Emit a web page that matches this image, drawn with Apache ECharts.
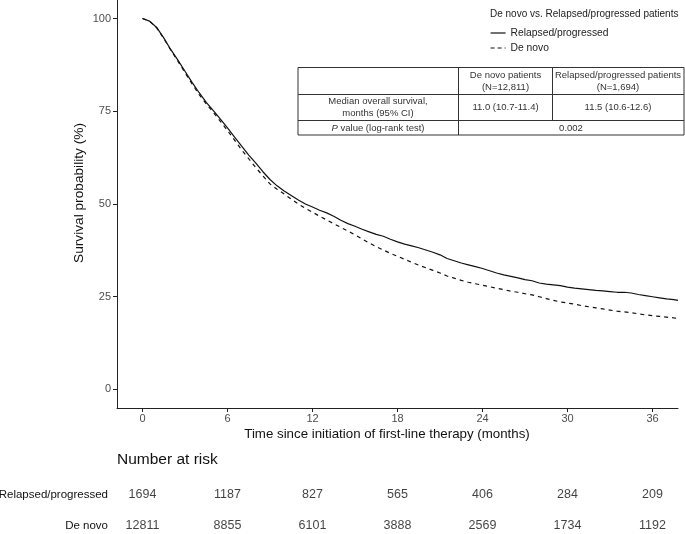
<!DOCTYPE html>
<html>
<head>
<meta charset="utf-8">
<script src="https://cdn.jsdelivr.net/npm/echarts@6/dist/echarts.min.js"></script>
<style>html,body{margin:0;padding:0;background:#fff;}#c{width:685px;height:534px;}</style>
</head>
<body>
<div id="c"></div>
<script>
const times = [0,0.5,1,1.5,2,2.5,3,3.5,4,4.5,5,5.5,6,6.5,7,7.5,8,8.5,9,9.5,10,10.5,11,11.5,12,12.5,13,13.5,14,14.5,15,15.5,16,16.5,17,17.5,18,18.5,19,19.5,20,20.5,21,21.5,22,22.5,23,23.5,24,24.5,25,25.5,26,26.5,27,27.5,28,28.5,29,29.5,30,30.5,31,31.5,32,32.5,33,33.5,34,34.5,35,35.5,36,36.5,37,37.5,37.8];
const relapsedSurv = [100,99.3,97.6,94.8,91.6,88.8,85.8,82.8,80.0,77.4,75.2,72.9,70.5,68.0,65.6,63.2,61.0,58.7,56.6,54.9,53.5,52.3,51.1,50.0,49.2,48.3,47.6,46.7,45.6,44.7,44.0,43.2,42.5,41.8,41.3,40.5,39.8,39.2,38.7,38.2,37.6,37.0,36.3,35.3,34.7,34.1,33.6,33.1,32.6,32.0,31.4,30.9,30.5,30.1,29.6,29.3,28.7,28.4,28.2,28.0,27.6,27.3,27.1,26.9,26.7,26.6,26.4,26.2,26.2,26.0,25.6,25.3,25.0,24.7,24.4,24.2,24.0];
const deNovoSurv = [100,99.3,97.5,94.6,91.5,88.5,85.4,82.4,79.5,77.0,74.7,72.3,69.8,67.2,64.6,62.2,59.8,57.6,55.4,54.0,52.7,51.3,50.0,48.8,47.8,46.7,45.7,44.7,43.7,42.7,41.7,40.6,39.5,38.5,37.6,36.7,35.9,35.1,34.3,33.5,32.8,32.1,31.4,30.6,30.0,29.4,28.9,28.5,28.1,27.7,27.3,26.9,26.5,26.2,25.8,25.5,25.0,24.5,24.0,23.6,23.3,23.0,22.6,22.3,22.0,21.7,21.4,21.1,20.9,20.7,20.4,20.1,19.9,19.7,19.5,19.3,19.2];
const xTicks = [0,6,12,18,24,30,36];
const yTicks = [0,25,50,75,100];
const riskTimes = [0,6,12,18,24,30,36];
const riskRelapsed = [1694,1187,827,565,406,284,209];
const riskDeNovo = [12811,8855,6101,3888,2569,1734,1192];
const riskRows = ['De novo','Relapsed/progressed'];
const groupNames = ['Relapsed/progressed','De novo'];

const FONT = '"Liberation Sans", Arial, sans-serif';
const chart = echarts.init(document.getElementById('c'), null, {renderer:'canvas'});

const relData = times.map((t,i)=>[t, relapsedSurv[i]]);
const dnData = times.map((t,i)=>[t, deNovoSurv[i]]);
const riskData = [];
riskTimes.forEach((t,i)=>{
  riskData.push([t, 'Relapsed/progressed', riskRelapsed[i]]);
  riskData.push([t, 'De novo', riskDeNovo[i]]);
});

const axisColor = '#222';
const labelColor = '#4d4d4d';
const txt = {fontFamily: FONT, fontSize: 9.5, fill: '#333'};
const TL = 298, TR = 684;

const option = {
  animation: false,
  backgroundColor: '#fff',
  textStyle: {fontFamily: FONT},
  grid: [
    {left: 117, top: 0, width: 561, height: 408, containLabel: false, outerBoundsMode: 'none'},
    {left: 117, top: 495, width: 561, height: 31, containLabel: false, outerBoundsMode: 'none'}
  ],
  legend: {
    orient: 'vertical',
    left: 490, top: 28, padding: 0,
    itemWidth: 15, itemHeight: 10, itemGap: 5,
    itemStyle: {opacity: 0},
    data: [
      {name: groupNames[0], lineStyle: {type: 'solid', color: '#111', width: 1.2}},
      {name: groupNames[1], lineStyle: {type: [4, 3], color: '#111', width: 1.2}}
    ],
    textStyle: {fontFamily: FONT, fontSize: 10.3, color: '#222'}
  },
  xAxis: [
    {
      type: 'value', gridIndex: 0, min: -1.8, max: 37.8,
      axisLine: {show: true, onZero: false, lineStyle: {color: axisColor, width: 1}},
      axisTick: {show: true, length: 4, customValues: xTicks, lineStyle: {color: axisColor}},
      axisLabel: {customValues: xTicks, color: labelColor, fontSize: 11, fontFamily: FONT, margin: 5},
      splitLine: {show: false}
    },
    {
      type: 'value', gridIndex: 1, min: -1.8, max: 37.8,
      axisLine: {show: false}, axisTick: {show: false}, axisLabel: {show: false}, splitLine: {show: false}
    }
  ],
  yAxis: [
    {
      type: 'value', gridIndex: 0, min: -5, max: 105,
      axisLine: {show: true, onZero: false, lineStyle: {color: axisColor, width: 1}},
      axisTick: {show: true, length: 4, customValues: yTicks, lineStyle: {color: axisColor}},
      axisLabel: {customValues: yTicks, color: labelColor, fontSize: 11, fontFamily: FONT, margin: 6},
      splitLine: {show: false}
    },
    {
      type: 'category', gridIndex: 1, data: riskRows, boundaryGap: false,
      axisLine: {show: false}, axisTick: {show: false}, splitLine: {show: false},
      axisLabel: {color: '#111', fontSize: 11.5, fontFamily: FONT, margin: 9}
    }
  ],
  series: [
    {
      name: 'Relapsed/progressed', type: 'line', xAxisIndex: 0, yAxisIndex: 0,
      data: relData, symbol: 'none', showSymbol: false, clip: true,
      lineStyle: {color: '#111', width: 1.2, type: 'solid'},
      itemStyle: {color: '#111'}
    },
    {
      name: 'De novo', type: 'line', xAxisIndex: 0, yAxisIndex: 0,
      data: dnData, symbol: 'none', showSymbol: false, clip: true,
      lineStyle: {color: '#111', width: 1.2, type: [4, 4]},
      itemStyle: {color: '#111'}
    },
    {
      name: 'risk', type: 'scatter', xAxisIndex: 1, yAxisIndex: 1,
      data: riskData, symbolSize: 2, itemStyle: {color: 'rgba(0,0,0,0)'},
      label: {show: true, position: [1, 1], align: 'center', verticalAlign: 'middle',
        formatter: p => String(p.value[2]),
        color: '#111', fontSize: 12.5, fontFamily: FONT},
      silent: true
    }
  ],
  graphic: [
    {type: 'text', x: 387, y: 434, style: {text: 'Time since initiation of first-line therapy (months)', align: 'center', verticalAlign: 'middle', fontFamily: FONT, fontSize: 13.3, fill: '#111'}},
    {type: 'text', x: 79, y: 193, rotation: Math.PI / 2, style: {text: 'Survival probability (%)', align: 'center', verticalAlign: 'middle', fontFamily: FONT, fontSize: 13.7, fill: '#111'}},
    {type: 'text', left: 490, top: 9, style: {text: 'De novo vs. Relapsed/progressed patients', fontFamily: FONT, fontSize: 10, fill: '#222'}},
    {type: 'text', left: 117, top: 452, style: {text: 'Number at risk', fontFamily: FONT, fontSize: 15.5, fill: '#111'}},
    {type: 'rect', shape: {x: TL, y: 67.5, width: TR - TL, height: 67.5}, style: {fill: 'none', stroke: '#333', lineWidth: 1}},
    {type: 'line', shape: {x1: TL, y1: 94.5, x2: TR, y2: 94.5}, style: {stroke: '#333', lineWidth: 1}},
    {type: 'line', shape: {x1: TL, y1: 120.5, x2: TR, y2: 120.5}, style: {stroke: '#333', lineWidth: 1}},
    {type: 'line', shape: {x1: 458.5, y1: 67.5, x2: 458.5, y2: 135}, style: {stroke: '#333', lineWidth: 1}},
    {type: 'line', shape: {x1: 552.5, y1: 67.5, x2: 552.5, y2: 120.5}, style: {stroke: '#333', lineWidth: 1}},
    {type: 'text', x: 505.5, y: 81, style: Object.assign({text: 'De novo patients\n(N=12,811)', align: 'center', verticalAlign: 'middle', lineHeight: 12}, txt)},
    {type: 'text', x: 618, y: 81, style: Object.assign({text: 'Relapsed/progressed patients\n(N=1,694)', align: 'center', verticalAlign: 'middle', lineHeight: 12}, txt)},
    {type: 'text', x: 378, y: 107.5, style: Object.assign({text: 'Median overall survival,\nmonths (95% CI)', align: 'center', verticalAlign: 'middle', lineHeight: 12}, txt)},
    {type: 'text', x: 505.5, y: 107.5, style: Object.assign({text: '11.0 (10.7-11.4)', align: 'center', verticalAlign: 'middle'}, txt)},
    {type: 'text', x: 618, y: 107.5, style: Object.assign({text: '11.5 (10.6-12.6)', align: 'center', verticalAlign: 'middle'}, txt)},
    {type: 'text', x: 378, y: 128, style: Object.assign({text: '{i|P} value (log-rank test)', align: 'center', verticalAlign: 'middle',
      rich: {i: {fontStyle: 'italic', fontFamily: FONT, fontSize: 9.5, fill: '#333'}}}, txt)},
    {type: 'text', x: 571, y: 128, style: Object.assign({text: '0.002', align: 'center', verticalAlign: 'middle'}, txt)}
  ]
};
chart.setOption(option);
</script>
</body>
</html>
